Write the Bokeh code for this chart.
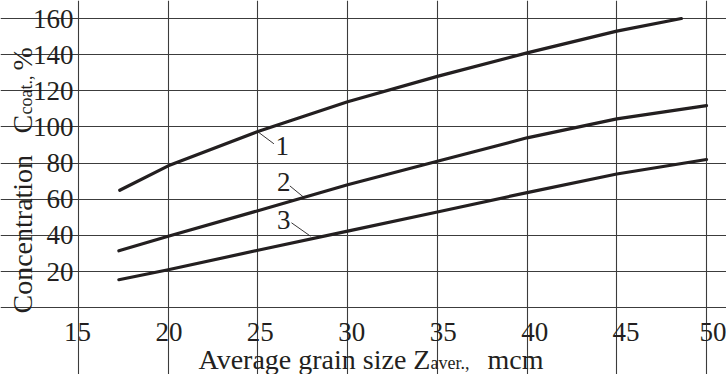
import math
from bokeh.plotting import figure
from bokeh.models import FixedTicker, Label, Range1d, LinearAxis, Grid
from bokeh.core.properties import value
from bokeh.embed import file_html
from bokeh.resources import INLINE

# ---- data ----
x_ticks = [15, 20, 25, 30, 35, 40, 45, 50]
y_ticks = [20, 40, 60, 80, 100, 120, 140, 160]
y_grid = [0, 20, 40, 60, 80, 100, 120, 140, 160]

c1_x = [17.3, 20, 25, 30, 35, 40, 45, 48.6]
c1_y = [65, 78.5, 97.5, 114, 128, 141, 153, 160]

c2_x = [17.25, 20, 25, 30, 35, 40, 45, 50]
c2_y = [31.5, 39.6, 53.7, 68, 81, 94, 104.5, 111.8]

c3_x = [17.25, 20, 25, 30, 35, 40, 45, 50]
c3_y = [15.5, 21, 31.8, 42.4, 53, 63.7, 74, 82]

curve_names = ["1", "2", "3"]
name_x = [26.35, 26.44, 26.44]
name_y = [89.2, 69.8, 48.5]
lead_x0 = [24.96, 26.78, 26.87]
lead_y0 = [97.6, 67.4, 47.0]
lead_x1 = [25.89, 27.52, 27.93]
lead_y1 = [90.7, 61.4, 39.6]

FONT = "Liberation Serif"
INK = "#231f20"

# plot frame covers the whole canvas; the chart box is drawn by the grids
p = figure(width=726, height=374, output_backend="svg", toolbar_location=None,
           x_range=Range1d(10.653, 51.115), y_range=Range1d(-36.92, 169.96),
           x_axis_location=None, y_axis_location=None,
           min_border=0)
p.extra_x_ranges = {"lab": Range1d(10.789, 50.49)}
p.background_fill_color = "white"
p.border_fill_color = "white"
p.outline_line_color = None
p.xgrid.visible = False
p.ygrid.visible = False

xax = LinearAxis(x_range_name="lab", fixed_location=0, ticker=FixedTicker(ticks=x_ticks))
yax = LinearAxis(fixed_location=15, ticker=FixedTicker(ticks=y_ticks))
for ax in (xax, yax):
    ax.axis_line_color = None
    ax.major_tick_in = 0
    ax.major_tick_out = 0
    ax.minor_tick_line_color = None
    ax.major_label_text_font = FONT
    ax.major_label_text_font_size = "27px"
    ax.major_label_text_color = INK
xax.major_label_standoff = 15
yax.major_label_standoff = 5
p.add_layout(xax, "below")
p.add_layout(yax, "left")

vgrid = Grid(dimension=0, ticker=FixedTicker(ticks=x_ticks), bounds=(0, 160),
             grid_line_color="#3c3c3c", grid_line_width=1.1)
hgrid = Grid(dimension=1, ticker=FixedTicker(ticks=y_grid), bounds=(15, 50),
             grid_line_color="#3c3c3c", grid_line_width=1.1)
p.add_layout(vgrid)
p.add_layout(hgrid)

for xs, ys in ((c1_x, c1_y), (c2_x, c2_y), (c3_x, c3_y)):
    p.line(xs, ys, line_width=3.2, line_color=INK, line_join="round", line_cap="round")

p.segment(lead_x0, lead_y0, lead_x1, lead_y1, line_color=INK, line_width=0.9)
p.text(name_x, name_y, text=curve_names, text_font=value(FONT), text_font_size="27px",
       text_color=INK, text_align="center", text_baseline="middle")

# ---- axis titles (screen units, from the bottom-left corner) ----
def lab(text, x, y, size, angle=0.0):
    p.add_layout(Label(x=x, y=y, x_units="screen", y_units="screen", text=text,
                       text_font=FONT, text_font_size=size, text_color=INK,
                       text_align="left", text_baseline="alphabetic", angle=angle))

lab("Average grain size Z", 198, 15, "28px")
lab("aver.,", 430, 12, "18px")
lab("mcm", 487, 15, "28px")

lab("Concentration", 22, 61, "28px", math.pi / 2)
lab("C", 22, 241, "28px", math.pi / 2)
lab("coat.,", 25, 260, "18px", math.pi / 2)
lab("%", 22, 304, "28px", math.pi / 2)

open("out.html", "w").write(file_html(p, INLINE))
